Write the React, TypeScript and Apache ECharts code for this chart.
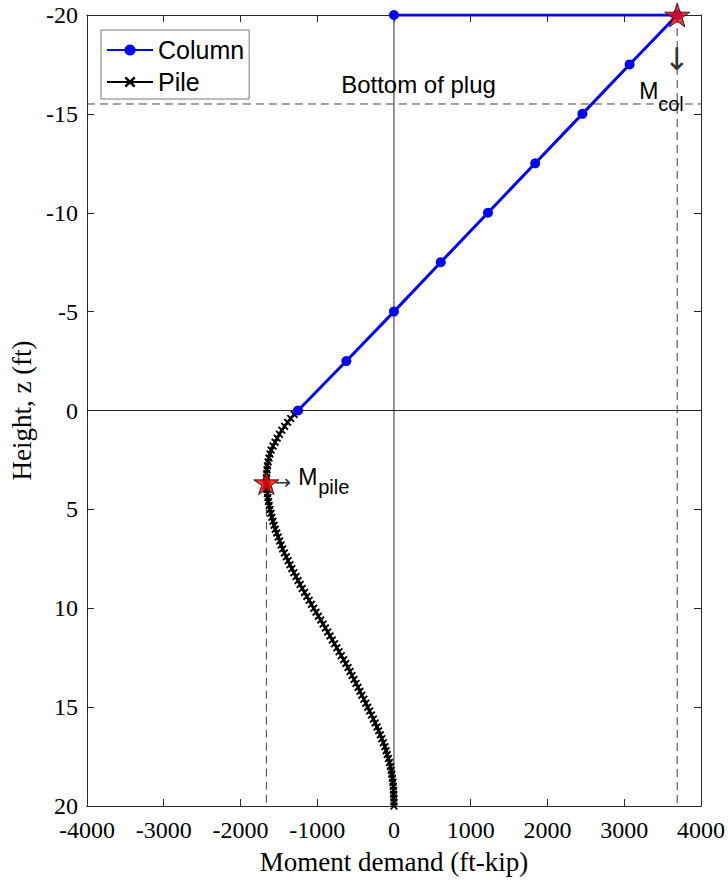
import React, { useEffect, useRef } from "react";
import * as echarts from "echarts";

// ---- axis ticks ----
const xTicks = [-4000, -3000, -2000, -1000, 0, 1000, 2000, 3000, 4000];
const zTicks = [-20, -15, -10, -5, 0, 5, 10, 15, 20];

// ---- Column series (height z in ft, moment in ft-kip) ----
const columnHeight = [-20, -20, -17.5, -15, -12.5, -10, -7.5, -5, -2.5, 0];
const columnMoment = [0, 3690, 3070, 2455, 1840, 1225, 610, 0, -620, -1250];

// ---- Pile series ----
const pileHeight = [
  0, 0.2, 0.4, 0.6, 0.8, 1, 1.2, 1.4, 1.6, 1.8,
  2, 2.2, 2.4, 2.6, 2.8, 3, 3.2, 3.4, 3.6, 3.8,
  4, 4.2, 4.4, 4.6, 4.8, 5, 5.2, 5.4, 5.6, 5.8,
  6, 6.2, 6.4, 6.6, 6.8, 7, 7.2, 7.4, 7.6, 7.8,
  8, 8.2, 8.4, 8.6, 8.8, 9, 9.2, 9.4, 9.6, 9.8,
  10, 10.2, 10.4, 10.6, 10.8, 11, 11.2, 11.4, 11.6, 11.8,
  12, 12.2, 12.4, 12.6, 12.8, 13, 13.2, 13.4, 13.6, 13.8,
  14, 14.2, 14.4, 14.6, 14.8, 15, 15.2, 15.4, 15.6, 15.8,
  16, 16.2, 16.4, 16.6, 16.8, 17, 17.2, 17.4, 17.6, 17.8,
  18, 18.2, 18.4, 18.6, 18.8, 19, 19.2, 19.4, 19.6, 19.8,
  20,
];
const pileMoment = [
  -1250, -1300, -1345, -1385, -1424, -1460, -1492, -1521, -1548, -1575,
  -1600, -1615, -1628, -1639, -1647, -1653, -1658, -1661, -1662, -1660,
  -1655, -1649, -1642, -1634, -1625, -1615, -1603, -1590, -1576, -1561,
  -1545, -1527, -1508, -1489, -1470, -1450, -1427, -1403, -1379, -1355,
  -1330, -1303, -1276, -1249, -1222, -1195, -1165, -1135, -1105, -1075,
  -1045, -1015, -984, -954, -923, -893, -863, -833, -803, -774,
  -744, -715, -686, -656, -627, -598, -572, -546, -520, -494,
  -468, -443, -418, -392, -367, -342, -317, -293, -268, -244,
  -220, -199, -178, -158, -138, -118, -102, -87, -72, -58,
  -45, -36, -28, -20, -13, -8, -5, -3, -1, 0,
  0,
];

// ---- maxima (stars) ----
const starMoment = [3690, -1662];
const starHeight = [-20, 3.65];

// ---- reference levels ----
const plugHeight = -15.5;

// ---- annotations ----
const annText = ["Bottom of plug", "\u2193", "M", "col", "\u2192", "M", "pile"];
const annMoment = [-688, 3688, 3195, 3442, -1450, -1247, -987];
const annHeight = [-16.51, -17.75, -16.18, -15.48, 3.62, 3.36, 3.88];

const SANS = "'Liberation Sans', Arial, Helvetica, sans-serif";
const SERIF = "'Liberation Serif', 'Times New Roman', serif";
const STAR =
  "path://M0,-1 L0.2245,-0.309 L0.951,-0.309 L0.363,0.118 L0.588,0.809 L0,0.382 L-0.588,0.809 L-0.363,0.118 L-0.951,-0.309 L-0.2245,-0.309 Z";
const CROSS =
  "path://M1,0 L3,2 L5,0 L6,1 L4,3 L6,5 L5,6 L3,4 L1,6 L0,5 L2,3 L0,1 Z";

const annStyles = [
  { fontSize: 24, align: "left", font: SANS, color: "#000" },
  { fontSize: 31, align: "center", font: "'DejaVu Sans', sans-serif", color: "#333" },
  { fontSize: 23, align: "left", font: SANS, color: "#000" },
  { fontSize: 20, align: "left", font: SANS, color: "#000" },
  { fontSize: 20, align: "center", font: "'DejaVu Sans', sans-serif", color: "#333" },
  { fontSize: 23, align: "left", font: SANS, color: "#000" },
  { fontSize: 20, align: "left", font: SANS, color: "#000" },
];

export default function App() {
  const ref = useRef<HTMLDivElement>(null);
  useEffect(() => {
    document.body.style.margin = "0";
    const chart = echarts.init(ref.current!, undefined, { renderer: "svg" });
    const xMin = xTicks[0];
    const xMax = xTicks[xTicks.length - 1];
    const zMin = zTicks[0];
    const zMax = zTicks[zTicks.length - 1];
    const xInt = xTicks[1] - xTicks[0];
    const zInt = zTicks[1] - zTicks[0];

    const axisCommon = {
      axisLine: { show: true, onZero: false, lineStyle: { color: "#262626", width: 1 } },
      axisTick: { show: true, inside: true, length: 7, lineStyle: { color: "#262626" } },
      splitLine: { show: false },
    };

    const refLine = (data: number[][], dashed: boolean) => ({
      type: "line",
      data,
      symbol: "none",
      silent: true,
      z: 1,
      lineStyle: {
        color: dashed ? "#404040" : "#262626",
        width: 1,
        type: dashed ? [8, 5] : "solid",
      },
    });

    chart.setOption({
      animation: false,
      backgroundColor: "#ffffff",
      grid: { left: 85, right: 27, top: 15, bottom: 76, containLabel: false },
      legend: {
        data: ["Column", "Pile"],
        orient: "vertical",
        left: 101,
        top: 30,
        padding: [6, 5, 3, 5],
        itemGap: 4,
        itemWidth: 46,
        itemHeight: 14,
        backgroundColor: "#ffffff",
        borderColor: "#777777",
        borderWidth: 1,
        borderRadius: 0,
        textStyle: { fontFamily: SANS, fontSize: 25, color: "#000", lineHeight: 28 },
      },
      xAxis: [
        {
          ...axisCommon,
          type: "value",
          min: xMin,
          max: xMax,
          interval: xInt,
          position: "bottom",
          name: "Moment demand (ft-kip)",
          nameLocation: "middle",
          nameGap: 42,
          nameTextStyle: { fontFamily: SERIF, fontSize: 27, color: "#000" },
          axisLabel: {
            margin: 12,
            fontFamily: SERIF,
            fontSize: 24,
            color: "#000",
            formatter: (v: number) => String(v),
          },
        },
        {
          ...axisCommon,
          type: "value",
          min: xMin,
          max: xMax,
          interval: xInt,
          position: "top",
          axisLabel: { show: false },
        },
      ],
      yAxis: [
        {
          ...axisCommon,
          type: "value",
          min: zMin,
          max: zMax,
          interval: zInt,
          inverse: true,
          position: "left",
          name: "Height, z (ft)",
          nameLocation: "middle",
          nameGap: 44,
          nameTextStyle: { fontFamily: SERIF, fontSize: 27, color: "#000" },
          axisLabel: {
            margin: 9,
            fontFamily: SERIF,
            fontSize: 24,
            color: "#000",
            formatter: (v: number) => String(v),
          },
        },
        {
          ...axisCommon,
          type: "value",
          min: zMin,
          max: zMax,
          interval: zInt,
          inverse: true,
          position: "right",
          axisLabel: { show: false },
        },
      ],
      series: [
        refLine([[0, zMin], [0, zMax]], false),
        refLine([[xMin, 0], [xMax, 0]], false),
        refLine([[xMin, plugHeight], [xMax, plugHeight]], true),
        refLine([[starMoment[0], starHeight[0]], [starMoment[0], zMax]], true),
        refLine([[starMoment[1], starHeight[1]], [starMoment[1], zMax]], true),
        {
          name: "Pile",
          type: "line",
          data: pileHeight.map((z, i) => [pileMoment[i], z]),
          symbol: CROSS,
          symbolSize: 8,
          showAllSymbol: true,
          z: 3,
          lineStyle: { color: "#000", width: 2.5 },
          itemStyle: { color: "#000" },
        },
        {
          name: "Column",
          type: "line",
          data: columnHeight.map((z, i) => [columnMoment[i], z]),
          symbol: "circle",
          symbolSize: 10,
          showAllSymbol: true,
          z: 4,
          lineStyle: { color: "#0000ff", width: 3 },
          itemStyle: { color: "#0000ff" },
        },
        {
          type: "scatter",
          data: starHeight.map((z, i) => [starMoment[i], z]),
          symbol: STAR,
          symbolKeepAspect: true,
          symbolSize: 25,
          z: 5,
          silent: true,
          itemStyle: { color: "#ff0000", borderColor: "#000", borderWidth: 1 },
        },
        {
          type: "scatter",
          z: 6,
          silent: true,
          symbolSize: 0,
          itemStyle: { color: "#000000", opacity: 1 },
          data: annText.map((t, i) => ({
            value: [annMoment[i], annHeight[i]],
            label: {
              show: true,
              formatter: t,
              position: [0, 0],
              verticalAlign: "middle",
              align: annStyles[i].align,
              fontFamily: annStyles[i].font,
              fontSize: annStyles[i].fontSize,
              color: annStyles[i].color,
              opacity: 1,
            },
          })),
        },
      ],
    });
    return () => chart.dispose();
  }, []);
  return (
    <div
      ref={ref}
      style={{ position: "absolute", left: 0, top: 0, width: 728, height: 882, background: "#fff" }}
    />
  );
}
